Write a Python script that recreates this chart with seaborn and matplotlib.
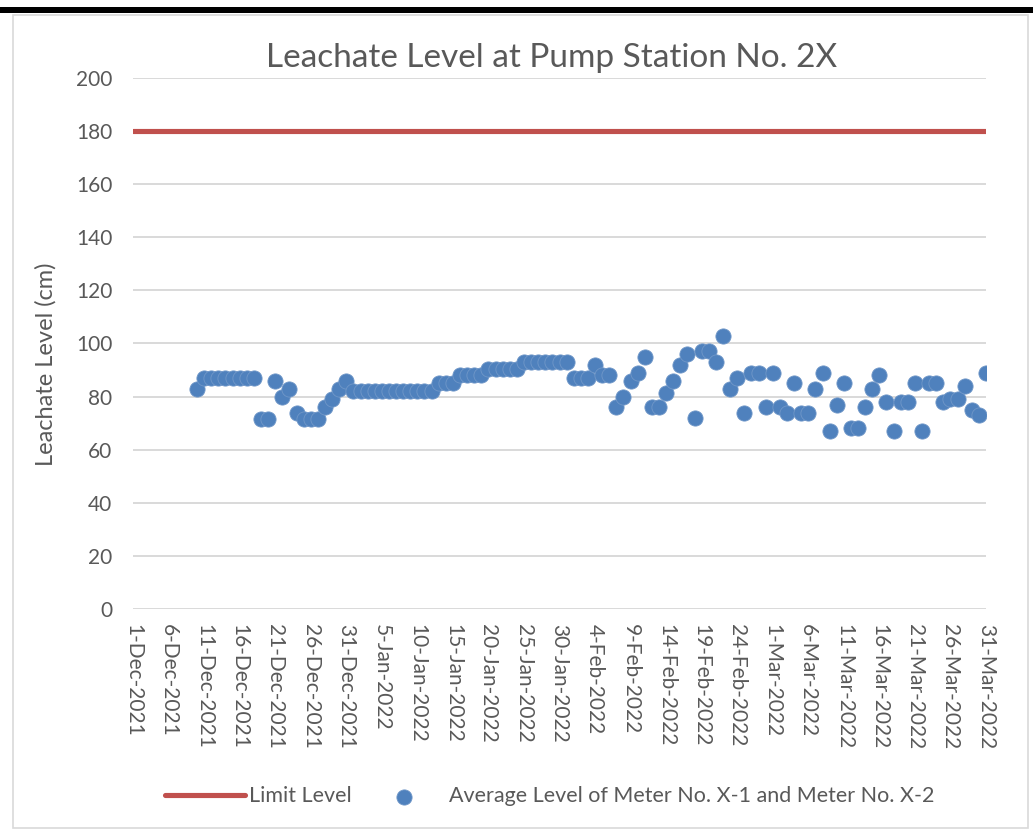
import matplotlib

matplotlib.use("Agg")
import matplotlib.pyplot as plt
import matplotlib.patches as mpatches
import seaborn as sns
import pandas as pd

# --- data ---
first_reading = "2021-12-10"
levels = [
    83,                                         # 10-Dec
    87, 87, 87, 87, 87, 87, 87, 87,             # 11-18 Dec
    71.4, 71.4, 86, 80, 83, 74, 71.4, 71.4, 71.4,
    76, 79, 83, 86,                             # 28-31 Dec
    82, 82, 82, 82, 82, 82, 82, 82, 82, 82, 82, 82,   # 1-12 Jan
    85, 85, 85, 88, 88, 88, 88,
    90.5, 90.5, 90.5, 90.5, 90.5,
    93, 93, 93, 93, 93, 93, 93,                 # 25-31 Jan
    87, 87, 87, 92, 88, 88, 76, 80, 86, 89, 95,  # 1-11 Feb
    76, 76, 81.5, 86, 92, 96, 72, 97, 97, 93, 103,
    83, 87, 74, 89, 89, 76,                     # 23-28 Feb
    89, 76, 74, 85, 74, 74, 83, 89, 67, 77, 85,  # 1-11 Mar
    68, 68, 76, 83, 88, 78, 67, 78, 78, 85, 67,
    85, 85, 78, 79, 79, 84, 75, 73, 89,          # 23-31 Mar
]
limit_dates = ["2021-12-01", "2022-03-31"]
limit_level = [180, 180]
axis_start, axis_end = "2021-12-01", "2022-03-31"
y_ticks = list(range(0, 201, 20))

title = "Leachate Level at Pump Station No. 2X"
y_label = "Leachate Level (cm)"
limit_name = "Limit Level"
series_name = "Average Level of Meter No. X-1 and Meter No. X-2"

BLUE = "#4F81BD"
RED = "#C0504D"
GREY_TEXT = "#595959"
GRID = "#D9D9D9"

sns.set_theme(style="white")
plt.rcParams["font.family"] = ["Lato", "DejaVu Sans"]

obs_dates = pd.date_range(first_reading, periods=len(levels), freq="D")
tick_dates = pd.date_range(axis_start, axis_end, freq="5D")

fig = plt.figure(figsize=(10.33, 8.32), dpi=100)
ax = fig.add_axes([0.1288, 0.268, 0.8257, 0.6383])

sns.lineplot(
    x=pd.to_datetime(limit_dates), y=limit_level, ax=ax, color=RED,
    linewidth=3.7, solid_capstyle="round", label=limit_name, zorder=2,
)
sns.scatterplot(
    x=obs_dates, y=levels, ax=ax, s=120, color=BLUE,
    edgecolor="#7097C8", linewidth=0.6, label=series_name, zorder=3,
)

ax.set_xlim(pd.Timestamp(axis_start), pd.Timestamp(axis_end))
ax.set_ylim(0, 200)
ax.set_yticks(y_ticks)
ax.set_xticks(tick_dates)
ax.set_xticklabels([f"{d.day}-{d.strftime('%b-%Y')}" for d in tick_dates], rotation=-90)
ax.yaxis.grid(True, color=GRID, linewidth=1.4)
ax.xaxis.grid(False)
ax.set_axisbelow(True)
for side in ax.spines.values():
    side.set_visible(False)
ax.tick_params(axis="both", length=0, colors=GREY_TEXT, labelsize=15)
ax.tick_params(axis="x", pad=11)
ax.tick_params(axis="y", pad=15)
ax.set_xlabel("")
ax.set_ylabel(y_label, fontsize=17, color=GREY_TEXT)
ax.yaxis.set_label_coords(-0.09, 0.46)
ax.set_title(title, fontsize=24, color=GREY_TEXT, x=0.491, pad=8)

handles, labels = ax.get_legend_handles_labels()
ax.get_legend().remove()
fig.legend(
    handles, labels, loc="center", bbox_to_anchor=(0.532, 0.043), ncol=2,
    frameon=False, fontsize=15.5, labelcolor=GREY_TEXT, handlelength=3.7,
    handletextpad=0.2, columnspacing=0.6,
)

# chart frame: thick black rule on top, light grey border
fig.add_artist(mpatches.Rectangle((0, 1 - 13 / 832), 1, 6 / 832, transform=fig.transFigure,
                                  color="black", lw=0))
fig.add_artist(mpatches.Rectangle((13 / 1033, 4 / 832), 1015 / 1033, 813 / 832,
                                  transform=fig.transFigure, fill=False,
                                  edgecolor=GRID, lw=1.2))

fig.savefig("out.png", dpi=100)
plt.close(fig)
